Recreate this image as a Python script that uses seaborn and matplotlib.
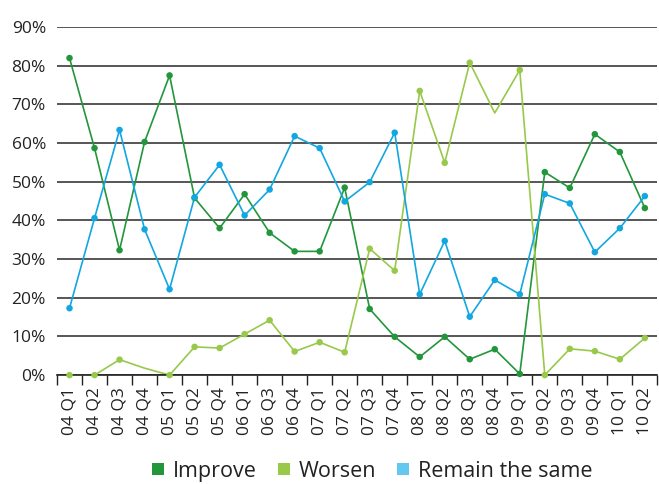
import seaborn as sns
import matplotlib.pyplot as plt
import pandas as pd
from matplotlib.lines import Line2D
from matplotlib.ticker import FixedLocator, PercentFormatter

sns.set_theme(style="white")
plt.rcParams['font.family'] = ['Open Sans', 'DejaVu Sans']

quarters = ['04 Q1', '04 Q2', '04 Q3', '04 Q4', '05 Q1', '05 Q2', '05 Q4', '06 Q1',
            '06 Q3', '06 Q4', '07 Q1', '07 Q2', '07 Q3', '07 Q4', '08 Q1', '08 Q2',
            '08 Q3', '08 Q4', '09 Q1', '09 Q2', '09 Q3', '09 Q4', '10 Q1', '10 Q2']

improve = [82.0, 58.7, 32.3, 60.3, 77.5, 45.8, 38.0, 46.8, 36.8, 32.0, 32.0, 48.5,
           17.1, 9.9, 4.7, 9.9, 4.1, 6.7, 0.3, 52.5, 48.4, 62.3, 57.7, 43.2]
worsen = [0.0, 0.0, 4.0, 1.8, 0.0, 7.3, 7.0, 10.6, 14.2, 6.1, 8.5, 5.9,
          32.7, 27.0, 73.5, 54.9, 80.8, 67.8, 78.9, 0.0, 6.8, 6.2, 4.1, 9.6]
remain = [17.3, 40.6, 63.4, 37.7, 22.2, 46.0, 54.4, 41.3, 48.0, 61.8, 58.7, 44.9,
          49.9, 62.7, 20.9, 34.7, 15.1, 24.6, 20.9, 46.8, 44.4, 31.8, 38.0, 46.3]

# points drawn without a dot in the original
worsen_no_dot = ['04 Q4', '08 Q4']

labels = ['Improve', 'Worsen', 'Remain the same']
colors = {'Improve': '#23963c', 'Worsen': '#98c94a', 'Remain the same': '#12a7e0'}
legend_colors = {'Improve': '#23963c', 'Worsen': '#98c94a', 'Remain the same': '#62c8f0'}

df = pd.DataFrame({'quarter': quarters, 'Improve': improve, 'Worsen': worsen,
                   'Remain the same': remain})
df['pos'] = range(len(quarters))
df = pd.melt(df, id_vars=['quarter', 'pos'], value_vars=labels, var_name='series', value_name='value')

fig = plt.figure(figsize=(6.59, 4.84), dpi=100)
ax = fig.add_axes([0.0865, 0.225, 0.911, 0.719])

ax.yaxis.grid(True, color='#3a3a3a', linewidth=1.2)
ax.set_axisbelow(True)

sns.lineplot(data=df, x='pos', y='value', hue='series', hue_order=labels, palette=colors,
             linewidth=1.2, legend=False, ax=ax, sort=False)
dots = df[~((df.series == 'Worsen') & (df.quarter.isin(worsen_no_dot)))]
sns.scatterplot(data=dots, x='pos', y='value', hue='series', hue_order=labels, palette=colors,
                s=22, linewidth=0, legend=False, ax=ax, zorder=3, clip_on=False)

ax.set_xlim(-0.5, len(quarters) - 0.5)
ax.set_ylim(0, 90)
ax.set_yticks(range(0, 91, 10))
ax.yaxis.set_major_formatter(PercentFormatter(decimals=0))
ax.set_xticks(range(len(quarters)))
ax.set_xticklabels(quarters, rotation=90, fontsize=12.5, color='#222222')
ax.xaxis.set_minor_locator(FixedLocator([i - 0.5 for i in range(len(quarters) + 1)]))
ax.tick_params(axis='x', which='major', length=0, pad=9)
ax.tick_params(axis='x', which='minor', length=7, width=1, color='#222222', direction='out', bottom=True)
ax.tick_params(axis='y', length=0, labelsize=12.5, labelcolor='#222222', pad=8)
ax.set_xlabel('')
ax.set_ylabel('')

for s in ['left', 'right', 'top']:
    ax.spines[s].set_visible(False)
ax.spines['bottom'].set_color('#222222')
ax.spines['bottom'].set_linewidth(1.2)

handles = [Line2D([0], [0], marker='s', linestyle='', markersize=8,
                  markerfacecolor=legend_colors[l], markeredgewidth=0) for l in labels]
fig.legend(handles, labels, loc='lower center', bbox_to_anchor=(0.563, -0.035), ncol=3,
           frameon=False, fontsize=15.5, handletextpad=0.3, columnspacing=0.85,
           handlelength=0.8, labelcolor='#222222')

plt.savefig('out.png', dpi=100)
